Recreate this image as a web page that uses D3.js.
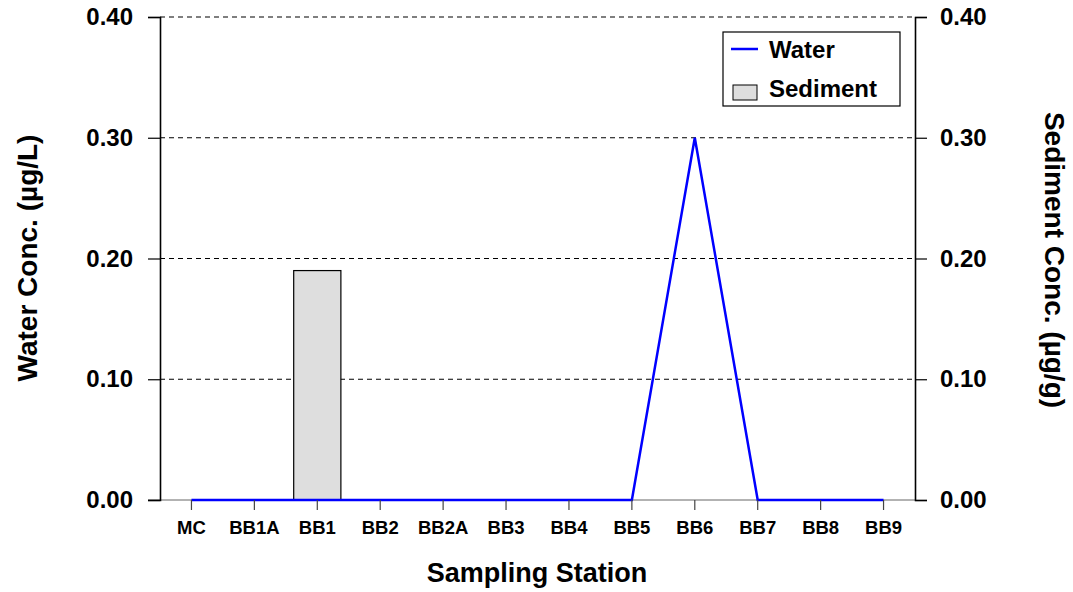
<!DOCTYPE html>
<html>
<head>
<meta charset="utf-8">
<script src="https://cdn.jsdelivr.net/npm/d3@7"></script>
<style>
  body { margin: 0; background: #fff; }
  svg { display: block; font-family: 'Liberation Sans', Arial, sans-serif; font-weight: bold; }
</style>
</head>
<body>
<div id="chart"></div>
<script>
var stations = ['MC', 'BB1A', 'BB1', 'BB2', 'BB2A', 'BB3', 'BB4', 'BB5', 'BB6', 'BB7', 'BB8', 'BB9']
var waterConc = [0, 0, 0, 0, 0, 0, 0, 0, 0.30, 0, 0, 0]
var sedimentConc = [0, 0, 0.19, 0, 0, 0, 0, 0, 0, 0, 0, 0]
var yTicks = [0, 0.1, 0.2, 0.3, 0.4]

var svgWidth = 1073,
    svgHeight = 592
var margin = { top: 17, right: 158, bottom: 92, left: 160 }
var width = svgWidth - margin.left - margin.right,
    height = svgHeight - margin.top - margin.bottom

var svg = d3.select('#chart').append('svg')
    .attr('width', svgWidth)
    .attr('height', svgHeight)
    .append('g')
    .attr('transform', 'translate(' + margin.left + ',' + margin.top + ')')

var xScale = d3.scaleBand()
    .domain(stations)
    .range([0, width])
    .paddingInner(0.25)
    .paddingOuter(0.125)

var yScale = d3.scaleLinear()
    .domain([0, 0.4])
    .range([height, 0])

// dashed gridlines
svg.append('g')
    .selectAll('line')
    .data(yTicks.filter(d => d > 0))
    .enter().append('line')
    .attr('x1', 0)
    .attr('x2', width)
    .attr('y1', d => yScale(d))
    .attr('y2', d => yScale(d))
    .attr('stroke', '#000')
    .attr('stroke-width', 1.2)
    .attr('stroke-dasharray', '5,4')

// x axis line (light, mostly hidden under zero bars)
svg.append('line')
    .attr('x1', -12).attr('x2', width)
    .attr('y1', height).attr('y2', height)
    .attr('stroke', '#666').attr('stroke-width', 1)

// sediment bars
svg.append('g')
    .selectAll('rect')
    .data(stations)
    .enter().append('rect')
    .attr('x', d => xScale(d))
    .attr('width', xScale.bandwidth())
    .attr('y', (d, i) => yScale(sedimentConc[i]))
    .attr('height', (d, i) => height - yScale(sedimentConc[i]))
    .attr('fill', '#dedede')
    .attr('stroke', '#000')
    .attr('stroke-width', 1.2)

// water line
var line = d3.line()
    .x((d, i) => xScale(stations[i]) + xScale.bandwidth() / 2)
    .y(d => yScale(d))

svg.append('path')
    .datum(waterConc)
    .attr('d', line)
    .attr('fill', 'none')
    .attr('stroke', '#0000ff')
    .attr('stroke-width', 2.5)

// left axis
var yAxisLeft = svg.append('g')
    .call(d3.axisLeft(yScale).tickValues(yTicks).tickFormat(d3.format('.2f')).tickSizeOuter(0).tickSize(12).tickPadding(15))
yAxisLeft.selectAll('text').style('font-size', '24px').style('font-weight', 'bold').attr('fill', '#000')
yAxisLeft.selectAll('line').attr('stroke-width', 1.2)
yAxisLeft.select('.domain').attr('stroke', '#000').attr('stroke-width', 1.6)

// right axis
var yAxisRight = svg.append('g')
    .attr('transform', 'translate(' + width + ',0)')
    .call(d3.axisRight(yScale).tickValues(yTicks).tickFormat(d3.format('.2f')).tickSizeOuter(0).tickSize(12).tickPadding(13))
yAxisRight.selectAll('text').style('font-size', '24px').style('font-weight', 'bold').attr('fill', '#000')
yAxisRight.selectAll('line').attr('stroke-width', 1.2)
yAxisRight.select('.domain').attr('stroke', '#000').attr('stroke-width', 1.6)

// bottom axis ticks and labels
var xAxis = svg.append('g')
    .attr('transform', 'translate(0,' + height + ')')
    .call(d3.axisBottom(xScale).tickSize(10).tickSizeOuter(0).tickPadding(11))
xAxis.select('.domain').remove()
xAxis.selectAll('line').attr('stroke', '#444').attr('stroke-width', 1.2)
xAxis.selectAll('text').style('font-size', '18.5px').style('font-weight', 'bold').attr('fill', '#000')

// axis titles
svg.append('text')
    .attr('text-anchor', 'middle')
    .attr('x', (537 - margin.left))
    .attr('y', height + 82)
    .style('font-size', '27px')
    .text('Sampling Station')

svg.append('text')
    .attr('text-anchor', 'middle')
    .attr('transform', 'translate(' + (37 - margin.left) + ',' + (258 - margin.top) + ') rotate(-90)')
    .style('font-size', '28px')
    .text('Water Conc. (µg/L)')

svg.append('text')
    .attr('text-anchor', 'middle')
    .attr('transform', 'translate(' + (1045 - margin.left) + ',' + (260 - margin.top) + ') rotate(90)')
    .style('font-size', '28px')
    .text('Sediment Conc. (µg/g)')

// legend
var legend = svg.append('g')
    .attr('transform', 'translate(' + (723 - margin.left) + ',' + (32 - margin.top) + ')')
legend.append('rect')
    .attr('width', 177).attr('height', 74)
    .attr('fill', '#fff').attr('stroke', '#000').attr('stroke-width', 1.2)
legend.append('line')
    .attr('x1', 8).attr('x2', 35)
    .attr('y1', 17).attr('y2', 17)
    .attr('stroke', '#0000ff').attr('stroke-width', 2.5)
legend.append('text')
    .attr('x', 46).attr('y', 26)
    .style('font-size', '24px')
    .text('Water')
legend.append('rect')
    .attr('x', 10).attr('y', 53)
    .attr('width', 24).attr('height', 15)
    .attr('fill', '#dedede').attr('stroke', '#000').attr('stroke-width', 1)
legend.append('text')
    .attr('x', 46).attr('y', 65)
    .style('font-size', '24px')
    .text('Sediment')
</script>
</body>
</html>
